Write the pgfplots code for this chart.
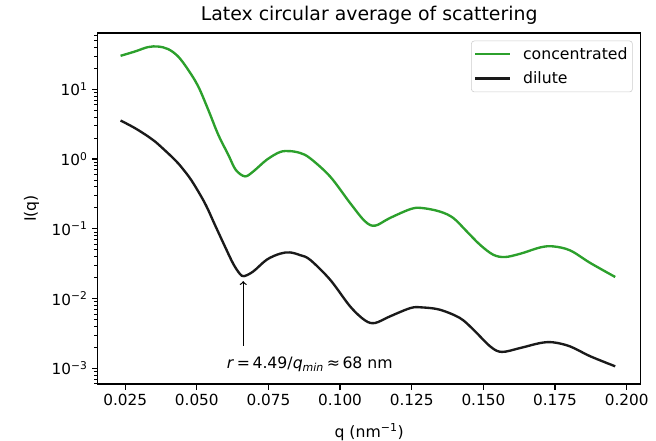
\documentclass[border=0pt]{standalone}
\usepackage{fontspec}
\setmainfont{DejaVu Sans}
\usepackage{pgfplots}
\pgfplotsset{compat=1.18}
\definecolor{mplgreen}{HTML}{2CA02C}
\definecolor{mplblack}{HTML}{1A1A1A}
\begin{document}
\begin{tikzpicture}
\path[use as bounding box] (-70.3pt,-41pt) rectangle (402pt,276.5pt);
\begin{axis}[
  at={(0,0)}, anchor=south west,
  scale only axis, width=391pt, height=252.7pt,
  ymode=log,
  xmin=0.0154, xmax=0.2049, ymin=5.96e-4, ymax=64,
  axis line style={black, line width=0.9pt},
  tick align=outside, tick pos=left,
  major tick length=4pt, minor tick length=2.3pt,
  every major tick/.append style={black, line width=0.9pt},
  every minor tick/.append style={black, line width=0.7pt},
  xtick={0.025,0.05,0.075,0.1,0.125,0.15,0.175,0.2},
  x tick label style={/pgf/number format/.cd, fixed, fixed zerofill, precision=3, assume math mode=true, /tikz/.cd},
  ytick={1e-3,1e-2,1e-1,1,10},
  yticklabels={10\textsuperscript{−3},10\textsuperscript{−2},10\textsuperscript{−1},10\textsuperscript{0},10\textsuperscript{1}},
  minor ytick={6e-4,7e-4,8e-4,9e-4,2e-3,3e-3,4e-3,5e-3,6e-3,7e-3,8e-3,9e-3,2e-2,3e-2,4e-2,5e-2,6e-2,7e-2,8e-2,9e-2,0.2,0.3,0.4,0.5,0.6,0.7,0.8,0.9,2,3,4,5,6,7,8,9,20,30,40,50,60},
  tick label style={font=\fontsize{11}{13}\selectfont, black},
  xticklabel style={inner sep=3pt},
  yticklabel style={inner sep=3pt},
  xlabel={q (nm\textsuperscript{−1})},
  ylabel={I(q)},
  label style={font=\fontsize{11.3}{13}\selectfont},
  xlabel style={at={(axis description cs:0.5,0)}, anchor=center, yshift=-34.6pt},
  ylabel style={at={(axis description cs:-0.1215,0.5)}, anchor=center},
  title={Latex circular average of scattering},
  title style={at={(axis description cs:0.5,1)}, anchor=center, yshift=7pt, font=\fontsize{13.6}{16}\selectfont},
  legend style={at={(1,1)}, anchor=north east, xshift=-5.8pt, yshift=-5.5pt,
    draw=black!20, rounded corners=2pt, fill=white, font=\fontsize{11.3}{13}\selectfont,
    inner xsep=2pt, inner ysep=3pt, row sep=4.5pt,
    nodes={inner sep=1.5pt},
    /tikz/every odd column/.append style={column sep=7pt}},
  legend cell align=left,
  legend image code/.code={\draw[#1] (0pt,0pt) -- (25pt,0pt);},
]
\addplot[mplgreen, line width=1.7pt, smooth, tension=0.55] coordinates {
(0.0234,30.2) (0.0284,34.8) (0.0330,40.3) (0.0365,41.0) (0.0400,37.7) (0.0435,29.5)
(0.0470,19.0) (0.0505,11.0) (0.0540,5.08) (0.0575,2.23) (0.0610,1.15) (0.0636,0.70)
(0.0668,0.565) (0.0697,0.664) (0.0744,0.977) (0.0790,1.26) (0.0825,1.30) (0.0861,1.22) (0.0895,1.03)
(0.0965,0.563) (0.1035,0.234) (0.1087,0.128) (0.1122,0.111) (0.1174,0.143) (0.1246,0.192)
(0.1285,0.199) (0.1348,0.177) (0.1395,0.143) (0.1442,0.0918) (0.1488,0.0592) (0.1534,0.0426)
(0.1575,0.0394) (0.1629,0.044) (0.1699,0.0542) (0.1744,0.056) (0.1803,0.049) (0.1873,0.0324)
(0.1960,0.0204)
};
\addlegendentry{concentrated\hspace{4pt}}
\addplot[mplblack, line width=1.7pt, smooth, tension=0.55] coordinates {
(0.0234,3.57) (0.0284,2.78) (0.0330,2.11) (0.0354,1.79) (0.0389,1.33) (0.0424,0.97)
(0.0447,0.76) (0.0482,0.49) (0.0528,0.234) (0.0563,0.1145) (0.0598,0.056) (0.0627,0.0316)
(0.0650,0.0227) (0.0665,0.0210) (0.0697,0.0245) (0.0744,0.0361) (0.0790,0.044) (0.0825,0.0459)
(0.0861,0.0419) (0.0895,0.0361) (0.0965,0.0187) (0.1035,0.00773) (0.1087,0.00487) (0.1122,0.00447) (0.1174,0.00556)
(0.1246,0.00733) (0.1285,0.00748) (0.1348,0.00693) (0.1418,0.00527) (0.1464,0.00363) (0.1524,0.00206)
(0.1564,0.00172) (0.1629,0.00196) (0.1699,0.00231) (0.1744,0.00236) (0.1803,0.00206) (0.1873,0.00149)
(0.1960,0.00107)
};
\addlegendentry{dilute}
\draw[->, black, line width=0.9pt] (axis cs:0.0662,0.00211) -- (axis cs:0.0662,0.0178);
\node[anchor=base west, inner sep=0pt, font=\fontsize{11.3}{13}\selectfont] at (axis cs:0.0604,0.001)
  {\textit{r}\,=\,4.49/\textit{q}\textsubscript{\textit{min}}\,≈\,68 nm};
\end{axis}
\end{tikzpicture}
\end{document}
